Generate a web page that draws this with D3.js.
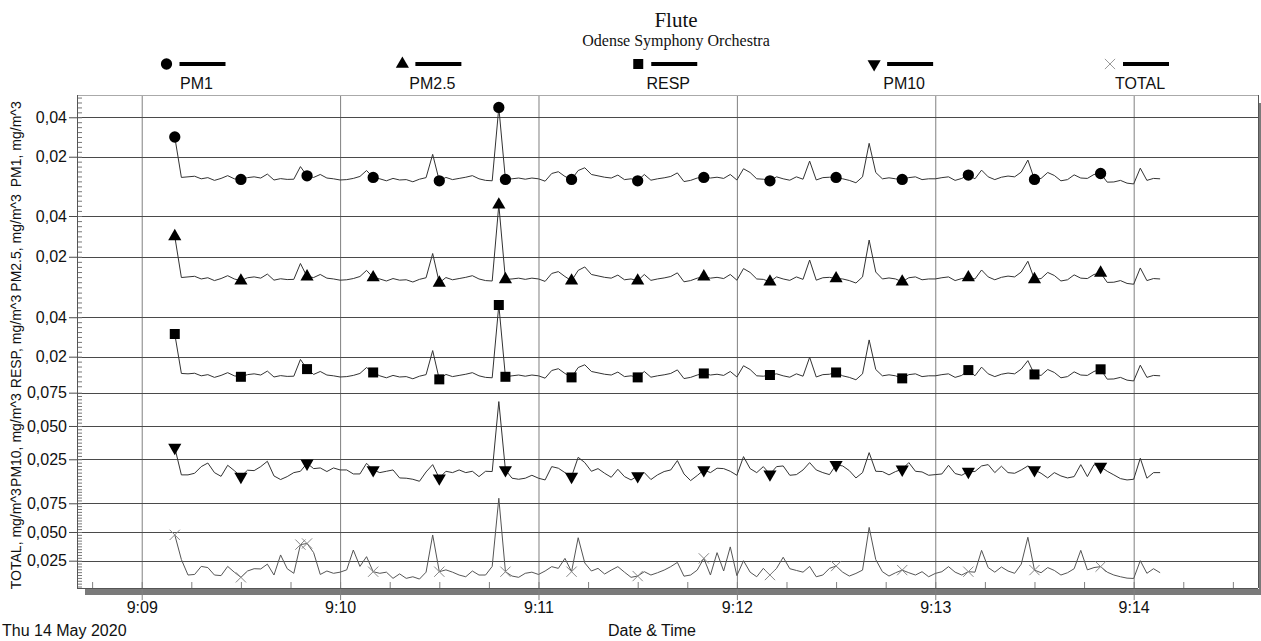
<!DOCTYPE html>
<html>
<head>
<meta charset="utf-8">
<script src="https://cdn.jsdelivr.net/npm/d3@7"></script>
<style>
  body { margin: 0; background: #fff; }
  svg { display: block; }
</style>
</head>
<body>
<svg id="chart" width="1261" height="641"></svg>
<script>
// samples every 2 s, starting 9:09:10 on Thu 14 May 2020
const sampleSeconds = d3.range(10, 310, 2);

const panelNames = ["PM1", "PM2.5", "RESP", "PM10", "TOTAL"];
const axisTitles = ["PM1, mg/m^3", "PM2.5, mg/m^3", "RESP, mg/m^3", "PM10, mg/m^3", "TOTAL, mg/m^3"];
const yDomains = [[0.0013, 0.0513], [0.0026, 0.0510], [0.0027, 0.0527], [0.0024, 0.0764], [0.0012, 0.0871]];
const yTicks = [[0.02, 0.04], [0.02, 0.04], [0.02, 0.04], [0.025, 0.05, 0.075], [0.025, 0.05, 0.075]];
const yTickFormats = [".2f", ".2f", ".2f", ".3f", ".3f"];

const pm1 = [
  0.0300, 0.0095, 0.0098, 0.0101, 0.0088, 0.0094, 0.0080, 0.0090, 0.0104, 0.0088,
  0.0085, 0.0094, 0.0098, 0.0092, 0.0112, 0.0082, 0.0089, 0.0085, 0.0086, 0.0150,
  0.0103, 0.0095, 0.0110, 0.0092, 0.0088, 0.0082, 0.0084, 0.0090, 0.0100, 0.0130,
  0.0095, 0.0088, 0.0078, 0.0090, 0.0082, 0.0084, 0.0073, 0.0086, 0.0094, 0.0212,
  0.0078, 0.0095, 0.0084, 0.0090, 0.0096, 0.0104, 0.0088, 0.0080, 0.0078, 0.0450,
  0.0085, 0.0088, 0.0092, 0.0086, 0.0092, 0.0088, 0.0076, 0.0115, 0.0124, 0.0100,
  0.0085, 0.0130, 0.0144, 0.0110, 0.0103, 0.0096, 0.0092, 0.0107, 0.0084, 0.0088,
  0.0078, 0.0110, 0.0081, 0.0088, 0.0093, 0.0100, 0.0118, 0.0074, 0.0080, 0.0092,
  0.0095, 0.0092, 0.0096, 0.0090, 0.0110, 0.0082, 0.0139, 0.0120, 0.0088, 0.0086,
  0.0078, 0.0098, 0.0088, 0.0081, 0.0098, 0.0086, 0.0178, 0.0082, 0.0094, 0.0096,
  0.0095, 0.0088, 0.0080, 0.0068, 0.0098, 0.0268, 0.0120, 0.0088, 0.0093, 0.0088,
  0.0085, 0.0094, 0.0098, 0.0084, 0.0088, 0.0088, 0.0094, 0.0098, 0.0080, 0.0090,
  0.0107, 0.0088, 0.0132, 0.0098, 0.0084, 0.0096, 0.0102, 0.0098, 0.0122, 0.0183,
  0.0085, 0.0090, 0.0120, 0.0105, 0.0078, 0.0084, 0.0108, 0.0092, 0.0090, 0.0110,
  0.0115, 0.0071, 0.0072, 0.0080, 0.0066, 0.0062, 0.0142, 0.0080, 0.0090, 0.0088
];
const pm25 = [
  0.0300, 0.0098, 0.0101, 0.0104, 0.0091, 0.0097, 0.0083, 0.0093, 0.0107, 0.0091,
  0.0082, 0.0097, 0.0101, 0.0095, 0.0115, 0.0085, 0.0092, 0.0088, 0.0089, 0.0167,
  0.0102, 0.0098, 0.0113, 0.0095, 0.0091, 0.0085, 0.0087, 0.0093, 0.0103, 0.0133,
  0.0098, 0.0091, 0.0081, 0.0093, 0.0085, 0.0087, 0.0076, 0.0089, 0.0097, 0.0216,
  0.0072, 0.0098, 0.0087, 0.0093, 0.0099, 0.0107, 0.0091, 0.0083, 0.0081, 0.0455,
  0.0089, 0.0091, 0.0095, 0.0089, 0.0095, 0.0091, 0.0079, 0.0118, 0.0127, 0.0103,
  0.0082, 0.0133, 0.0150, 0.0113, 0.0106, 0.0099, 0.0095, 0.0110, 0.0087, 0.0091,
  0.0082, 0.0113, 0.0084, 0.0091, 0.0096, 0.0103, 0.0121, 0.0077, 0.0083, 0.0095,
  0.0102, 0.0095, 0.0099, 0.0093, 0.0113, 0.0085, 0.0142, 0.0123, 0.0091, 0.0089,
  0.0077, 0.0101, 0.0091, 0.0084, 0.0101, 0.0089, 0.0184, 0.0085, 0.0097, 0.0099,
  0.0093, 0.0091, 0.0083, 0.0071, 0.0101, 0.0282, 0.0125, 0.0091, 0.0096, 0.0091,
  0.0077, 0.0097, 0.0101, 0.0087, 0.0091, 0.0091, 0.0097, 0.0101, 0.0083, 0.0093,
  0.0098, 0.0091, 0.0135, 0.0101, 0.0087, 0.0099, 0.0105, 0.0101, 0.0125, 0.0178,
  0.0089, 0.0093, 0.0123, 0.0108, 0.0081, 0.0087, 0.0111, 0.0095, 0.0093, 0.0113,
  0.0121, 0.0074, 0.0075, 0.0083, 0.0069, 0.0065, 0.0145, 0.0083, 0.0093, 0.0091
];
const resp = [
  0.0315, 0.0115, 0.0113, 0.0116, 0.0103, 0.0109, 0.0095, 0.0105, 0.0119, 0.0103,
  0.0098, 0.0109, 0.0113, 0.0107, 0.0127, 0.0097, 0.0104, 0.0100, 0.0101, 0.0186,
  0.0137, 0.0110, 0.0125, 0.0107, 0.0103, 0.0097, 0.0099, 0.0105, 0.0115, 0.0145,
  0.0120, 0.0103, 0.0093, 0.0105, 0.0097, 0.0099, 0.0088, 0.0101, 0.0109, 0.0231,
  0.0085, 0.0110, 0.0099, 0.0105, 0.0111, 0.0119, 0.0103, 0.0095, 0.0093, 0.0462,
  0.0098, 0.0103, 0.0107, 0.0101, 0.0107, 0.0103, 0.0091, 0.0130, 0.0139, 0.0115,
  0.0095, 0.0145, 0.0159, 0.0125, 0.0118, 0.0111, 0.0107, 0.0122, 0.0099, 0.0103,
  0.0095, 0.0125, 0.0096, 0.0103, 0.0108, 0.0115, 0.0133, 0.0089, 0.0095, 0.0107,
  0.0115, 0.0107, 0.0111, 0.0105, 0.0125, 0.0097, 0.0154, 0.0135, 0.0103, 0.0101,
  0.0107, 0.0113, 0.0103, 0.0096, 0.0113, 0.0101, 0.0197, 0.0097, 0.0109, 0.0111,
  0.0120, 0.0103, 0.0095, 0.0083, 0.0113, 0.0285, 0.0135, 0.0103, 0.0108, 0.0103,
  0.0090, 0.0109, 0.0113, 0.0099, 0.0103, 0.0103, 0.0109, 0.0113, 0.0095, 0.0105,
  0.0132, 0.0103, 0.0147, 0.0113, 0.0099, 0.0111, 0.0117, 0.0113, 0.0137, 0.0180,
  0.0110, 0.0105, 0.0135, 0.0120, 0.0093, 0.0099, 0.0123, 0.0107, 0.0105, 0.0125,
  0.0136, 0.0086, 0.0087, 0.0095, 0.0081, 0.0077, 0.0157, 0.0095, 0.0105, 0.0103
];
const pm10 = [
  0.0338, 0.0133, 0.0133, 0.0145, 0.0195, 0.0222, 0.0150, 0.0122, 0.0205, 0.0165,
  0.0120, 0.0168, 0.0165, 0.0195, 0.0235, 0.0125, 0.0098, 0.0120, 0.0150, 0.0160,
  0.0220, 0.0180, 0.0185, 0.0158, 0.0185, 0.0170, 0.0170, 0.0140, 0.0140, 0.0220,
  0.0170, 0.0150, 0.0160, 0.0170, 0.0110, 0.0108, 0.0100, 0.0085, 0.0155, 0.0210,
  0.0108, 0.0160, 0.0150, 0.0170, 0.0150, 0.0160, 0.0120, 0.0160, 0.0158, 0.0683,
  0.0170, 0.0108, 0.0100, 0.0108, 0.0130, 0.0108, 0.0095, 0.0195, 0.0183, 0.0150,
  0.0120, 0.0265, 0.0225, 0.0160, 0.0180, 0.0145, 0.0115, 0.0175, 0.0120, 0.0095,
  0.0125, 0.0150, 0.0098, 0.0133, 0.0158, 0.0170, 0.0240, 0.0140, 0.0090, 0.0128,
  0.0170, 0.0150, 0.0183, 0.0180, 0.0160, 0.0130, 0.0270, 0.0180, 0.0150, 0.0195,
  0.0138, 0.0195, 0.0200, 0.0130, 0.0135, 0.0170, 0.0225, 0.0170, 0.0150, 0.0135,
  0.0208, 0.0200, 0.0165, 0.0110, 0.0150, 0.0300, 0.0160, 0.0158, 0.0133, 0.0158,
  0.0175, 0.0225, 0.0160, 0.0155, 0.0130, 0.0135, 0.0140, 0.0205, 0.0143, 0.0130,
  0.0158, 0.0158, 0.0200, 0.0210, 0.0150, 0.0198, 0.0150, 0.0145, 0.0170, 0.0200,
  0.0170, 0.0145, 0.0110, 0.0150, 0.0125, 0.0110, 0.0120, 0.0210, 0.0120, 0.0210,
  0.0195, 0.0160, 0.0133, 0.0105, 0.0095, 0.0100, 0.0258, 0.0108, 0.0150, 0.0150
];
const total = [
  0.0475, 0.0260, 0.0125, 0.0130, 0.0200, 0.0190, 0.0125, 0.0120, 0.0200, 0.0150,
  0.0105, 0.0160, 0.0180, 0.0178, 0.0220, 0.0125, 0.0300, 0.0180, 0.0140, 0.0390,
  0.0400, 0.0320, 0.0130, 0.0160, 0.0140, 0.0150, 0.0170, 0.0343, 0.0200, 0.0285,
  0.0154, 0.0140, 0.0150, 0.0096, 0.0135, 0.0096, 0.0110, 0.0090, 0.0150, 0.0474,
  0.0154, 0.0170, 0.0150, 0.0125, 0.0110, 0.0160, 0.0125, 0.0125, 0.0200, 0.0794,
  0.0154, 0.0116, 0.0105, 0.0140, 0.0150, 0.0130, 0.0160, 0.0198, 0.0183, 0.0270,
  0.0154, 0.0450, 0.0230, 0.0160, 0.0183, 0.0134, 0.0168, 0.0198, 0.0150, 0.0105,
  0.0116, 0.0154, 0.0125, 0.0145, 0.0168, 0.0198, 0.0235, 0.0115, 0.0125, 0.0168,
  0.0270, 0.0125, 0.0320, 0.0160, 0.0370, 0.0120, 0.0250, 0.0150, 0.0110, 0.0183,
  0.0125, 0.0183, 0.0280, 0.0180, 0.0165, 0.0150, 0.0200, 0.0110, 0.0125, 0.0183,
  0.0203, 0.0150, 0.0116, 0.0139, 0.0168, 0.0540, 0.0260, 0.0154, 0.0116, 0.0145,
  0.0168, 0.0145, 0.0125, 0.0154, 0.0110, 0.0139, 0.0154, 0.0198, 0.0150, 0.0125,
  0.0154, 0.0150, 0.0340, 0.0190, 0.0150, 0.0195, 0.0160, 0.0140, 0.0220, 0.0454,
  0.0168, 0.0145, 0.0190, 0.0165, 0.0125, 0.0145, 0.0180, 0.0340, 0.0170, 0.0190,
  0.0198, 0.0150, 0.0125, 0.0110, 0.0098, 0.0095, 0.0250, 0.0140, 0.0180, 0.0145
];

// which samples carry a marker symbol
const markIdxFine = [0, 10, 20, 30, 40, 49, 50, 60, 70, 80, 90, 100, 110, 120, 130, 140];
const markIdxPM10 = [0, 10, 20, 30, 40, 50, 60, 70, 80, 90, 100, 110, 120, 130, 140];
const markIdxTotal = [0, 10, 19, 20, 30, 40, 50, 60, 70, 80, 90, 100, 110, 120, 130, 140];

const seriesValues = [pm1, pm25, resp, pm10, total];
const seriesMarks = [markIdxFine, markIdxFine, markIdxFine, markIdxPM10, markIdxTotal];
const symbolTypes = [d3.symbolCircle, d3.symbolTriangle, d3.symbolSquare, d3.symbolTriangle, d3.symbolX];
const symbolSizes = [100, 75, 100, 75, 70];

const sans = "'Liberation Sans', Arial, sans-serif";
const serif = "'Liberation Serif', 'Times New Roman', serif";
const svg = d3.select("#chart");
const plot = { left: 77, right: 1258, top: 95, bottom: 588 };
const t0 = new Date(2020, 4, 14, 9, 9, 0);
const atSec = s => new Date(+t0 + s * 1000);

const x = d3.scaleTime()
  .domain([atSec(-19.57), atSec(337.6)])
  .range([plot.left, plot.right]);
const band = d3.scaleBand().domain(panelNames).range([plot.top, plot.bottom]);
const yScales = panelNames.map((n, i) => d3.scaleLinear()
  .domain(yDomains[i])
  .range([band(n) + band.bandwidth(), band(n)]));
const locale = d3.formatLocale({ decimal: ",", thousands: ".", grouping: [3], currency: ["", ""] });

// shadow of the frame
svg.append("rect").attr("x", 85).attr("y", 589).attr("width", 1261 - 85).attr("height", 6).attr("fill", "#7a7a7a");
svg.append("rect").attr("x", 1259).attr("y", 103).attr("width", 4).attr("height", 492).attr("fill", "#7a7a7a");

// vertical minute grid, running through the bottom bar
const xGrid = svg.append("g").attr("transform", "translate(0,600)")
  .call(d3.axisBottom(x).ticks(d3.timeMinute.every(1)).tickFormat(d3.timeFormat("%-H:%M"))
    .tickSize(-(600 - plot.top)).tickPadding(2));
xGrid.select(".domain").remove();
xGrid.selectAll("line").attr("stroke", "#808080");
xGrid.selectAll("text").attr("font-family", sans).attr("font-size", 16).attr("fill", "#111");

// 15 s minor ticks on the bottom edge
const xMinor = svg.append("g").attr("transform", `translate(0,${plot.bottom})`)
  .call(d3.axisBottom(x).ticks(d3.timeSecond.every(15)).tickSize(-6).tickFormat(""));
xMinor.select(".domain").remove();
xMinor.selectAll("line").attr("stroke", "#808080");

// frame
svg.append("line").attr("x1", plot.left).attr("x2", plot.right).attr("y1", plot.top + 0.5).attr("y2", plot.top + 0.5).attr("stroke", "#aaa");
svg.append("line").attr("x1", plot.right + 0.5).attr("x2", plot.right + 0.5).attr("y1", plot.top).attr("y2", plot.bottom).attr("stroke", "#555");
svg.append("line").attr("x1", plot.left).attr("x2", plot.right).attr("y1", plot.bottom + 0.5).attr("y2", plot.bottom + 0.5).attr("stroke", "#555");

panelNames.forEach((name, i) => {
  const y = yScales[i];
  const g = svg.append("g");

  // horizontal grid at the labelled values
  g.selectAll(".hgrid").data(yTicks[i]).join("line")
    .attr("x1", plot.left).attr("x2", plot.right)
    .attr("y1", d => Math.round(y(d)) + 0.5).attr("y2", d => Math.round(y(d)) + 0.5)
    .attr("stroke", "#4a4a4a");

  const minor = d3.range(0.0025, yDomains[i][1], 0.0025).filter(v => v >= yDomains[i][0]);
  const ax = g.append("g").attr("transform", `translate(${plot.left},0)`)
    .call(d3.axisRight(y).tickValues(minor).tickSize(5).tickFormat(""));
  ax.select(".domain").remove();
  ax.selectAll("line").attr("stroke", "#777");

  const lab = g.append("g").attr("transform", `translate(${plot.left},0)`)
    .call(d3.axisLeft(y).tickValues(yTicks[i]).tickSize(8).tickPadding(2)
      .tickFormat(locale.format(yTickFormats[i])));
  lab.select(".domain").remove();
  lab.selectAll("line").attr("stroke", "#4a4a4a");
  lab.selectAll("text").attr("font-family", sans).attr("font-size", 16).attr("fill", "#111");

  g.append("text")
    .attr("transform", `translate(21,${band(name) + band.bandwidth() / 2}) rotate(-90)`)
    .attr("text-anchor", "middle").attr("font-family", sans).attr("font-size", 14).attr("fill", "#111")
    .text(axisTitles[i]);

  const vals = seriesValues[i];
  const line = d3.line().x((d, k) => x(atSec(sampleSeconds[k]))).y(d => y(d));
  g.append("path").datum(vals).attr("d", line)
    .attr("fill", "none").attr("stroke", i === 4 ? "#555" : "#333").attr("stroke-width", 1);

  const isX = i === 4;
  g.selectAll(".mark").data(seriesMarks[i]).join("path")
    .attr("transform", k => `translate(${x(atSec(sampleSeconds[k]))},${y(vals[k])})${i === 3 ? " rotate(180)" : ""}`)
    .attr("d", d3.symbol().type(symbolTypes[i]).size(symbolSizes[i]))
    .attr("fill", isX ? "none" : "#000")
    .attr("stroke", isX ? "#888" : "none").attr("stroke-width", 1);
});

// left edge of the plot
svg.append("line").attr("x1", plot.left + 0.5).attr("x2", plot.left + 0.5).attr("y1", plot.top).attr("y2", plot.bottom).attr("stroke", "#555");

// legend
const legendX = d3.scalePoint().domain(panelNames).range([166.5, 1110]);
const lg = svg.append("g").selectAll("g").data(panelNames).join("g")
  .attr("transform", d => `translate(${legendX(d)},64)`);
lg.append("path")
  .attr("transform", (d, i) => i === 3 ? "rotate(180)" : null)
  .attr("d", (d, i) => d3.symbol().type(symbolTypes[i]).size(symbolSizes[i])())
  .attr("fill", (d, i) => i === 4 ? "none" : "#000")
  .attr("stroke", (d, i) => i === 4 ? "#999" : "none");
lg.append("line").attr("x1", 13).attr("x2", 59).attr("stroke", "#000").attr("stroke-width", 4);
lg.append("text").attr("x", 30).attr("y", 25).attr("text-anchor", "middle")
  .attr("font-family", sans).attr("font-size", 16).attr("fill", "#111").text(d => d);

// titles
svg.append("text").attr("x", 676).attr("y", 27).attr("text-anchor", "middle")
  .attr("font-family", serif).attr("font-size", 21).attr("fill", "#111").text("Flute");
svg.append("text").attr("x", 676).attr("y", 46).attr("text-anchor", "middle")
  .attr("font-family", serif).attr("font-size", 16).attr("fill", "#111").text("Odense Symphony Orchestra");

svg.append("text").attr("x", 2).attr("y", 636).attr("font-family", sans).attr("font-size", 16)
  .attr("fill", "#111").text("Thu 14 May 2020");
svg.append("text").attr("x", 652).attr("y", 636).attr("text-anchor", "middle").attr("font-family", sans)
  .attr("font-size", 16).attr("fill", "#111").text("Date & Time");
</script>
</body>
</html>
